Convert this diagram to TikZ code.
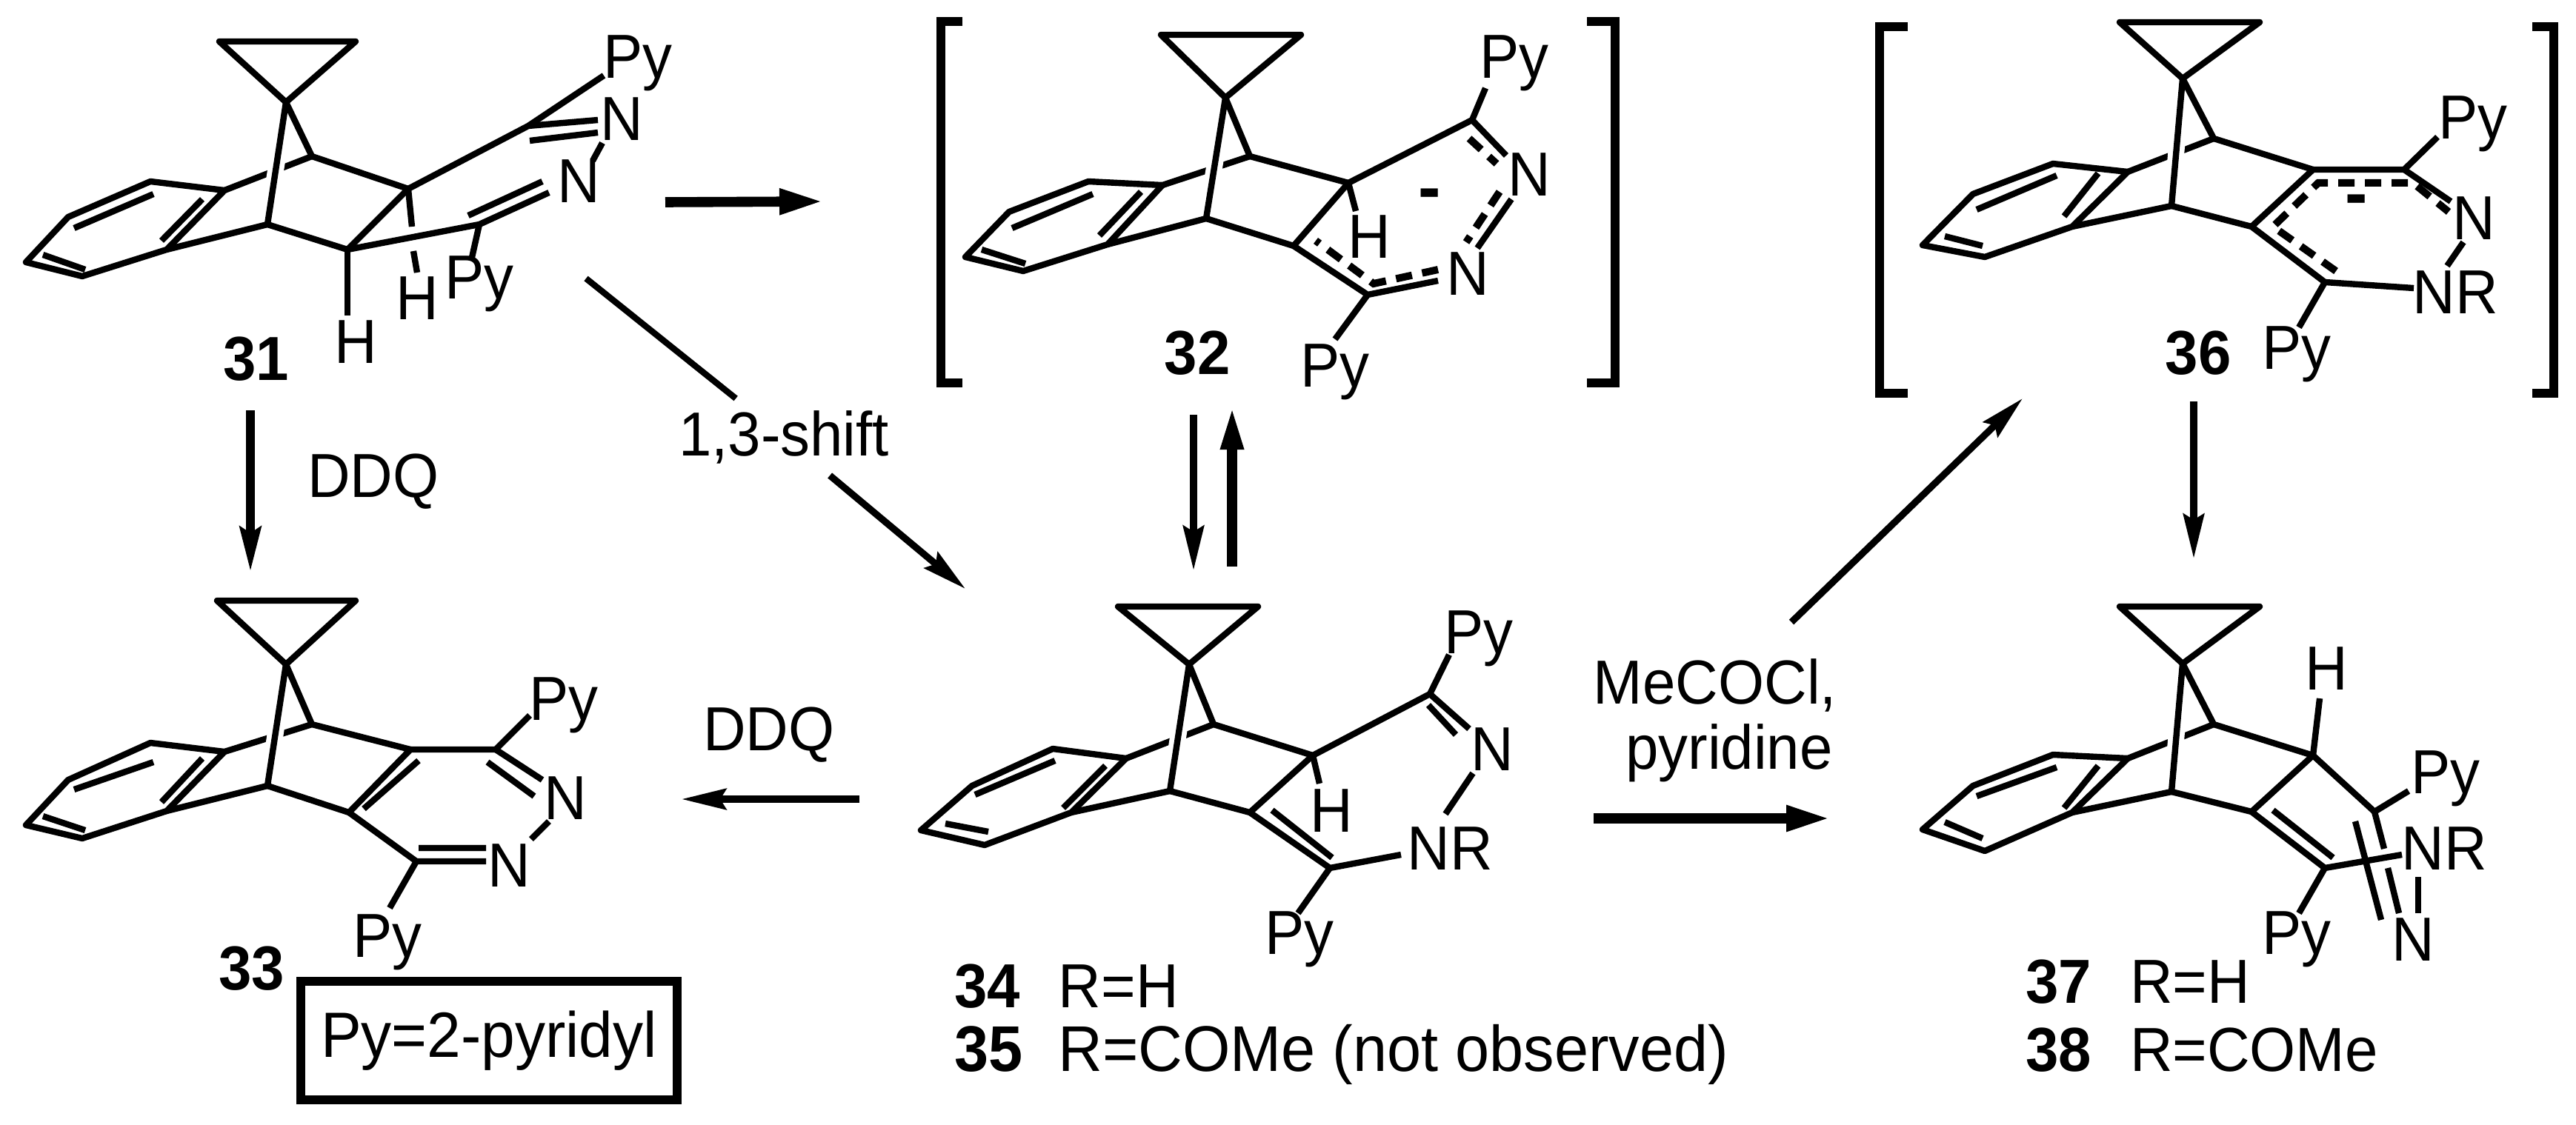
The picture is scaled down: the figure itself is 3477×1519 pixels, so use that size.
\documentclass[tikz,border=0pt]{standalone}
\usepackage{fontspec}
\setmainfont[FakeStretch=0.95]{Liberation Sans}
\usetikzlibrary{arrows.meta}

\tikzset{
  every picture/.style={line width=2.1pt},
  bond/.style={line width=2.1pt,line join=round},
  halo/.style={white,line width=5.5pt},
  resbond/.style={line width=2.5pt,dash pattern=on 5.5pt off 3.5pt},
  atomlabel/.style={font=\fontsize{21}{24}\selectfont,inner sep=0.75pt},
  numlabel/.style={font=\fontsize{21}{24}\selectfont\bfseries,inner sep=0.75pt},
  chargelabel/.style={font=\fontsize{24}{24}\selectfont\bfseries,inner sep=0.75pt},
  bracketline/.style={line width=3pt,line join=miter},
  thinarrow/.style={line width=2.3pt,-{Stealth[length=15pt,width=7pt,inset=2pt]}},
  thickarrow/.style={line width=3.4pt,-{Stealth[length=15pt,width=8pt,inset=0pt]}},
}

\begin{document}
\begin{tikzpicture}[x=0.25pt,y=0.25pt,yscale=-1,xscale=1]
\useasboundingbox (0,0) rectangle (3477,1519);

% Compound 31
\draw[bond] (421,211) -- (303,257) ;
\draw[halo] (386,138) -- (361,303) ;
\draw[bond] (296,56) -- (480,56) -- (386,138) -- cycle ;
\draw[bond] (386,138) -- (421,211) -- (551,255) -- (469,337) -- (361,303) -- (386,138) ;
\draw[bond] (303,257) -- (203,245) -- (92,293) -- (35,354) -- (111,373) -- (225,337) -- (303,257) ;
\draw[bond] (225,337) -- (361,303) ;
\draw[bond] (273,269) -- (218,325) (207,262) -- (100,308) (58,344) -- (115,364) ;
\draw[bond] (551,255) -- (713,170) -- (815,102) ;
\draw[bond] (713,170) -- (807,162) (715,190) -- (807,179) ;
\draw[bond] (813,193) -- (800,217) ;
\draw[bond] (469,337) -- (647,303) -- (741,260) (632,291) -- (732,245) ;
\draw[bond] (647,303) -- (636,352) ;
\draw[bond] (551,255) -- (556,306) (558,339) -- (563,368) ;
\draw[bond] (469,337) -- (469,426) ;
\node[atomlabel] (py31a) at (861,85) {Py};
\node[atomlabel] (n31a) at (839,161) {N};
\node[atomlabel] (n31b) at (781,245) {N};
\node[atomlabel] (py31b) at (647,383) {Py};
\node[atomlabel] (h31a) at (563,403) {H};
\node[atomlabel] (h31b) at (480,462) {H};
\node[numlabel] (num31) at (346,485) {31};

% Compound 32
\draw[bracketline] (1299,29) -- (1270,29) -- (1270,517) -- (1299,517) ;
\draw[bracketline] (2142,29) -- (2180,29) -- (2180,517) -- (2142,517) ;
\draw[bond] (1687,211) -- (1569,250) ;
\draw[halo] (1654,132) -- (1628,295) ;
\draw[bond] (1567,47) -- (1756,47) -- (1654,132) -- cycle ;
\draw[bond] (1654,132) -- (1687,211) -- (1820,247) -- (1746,332) -- (1628,295) -- (1654,132) ;
\draw[bond] (1569,250) -- (1469,245) -- (1362,286) -- (1303,347) -- (1381,366) -- (1495,330) -- (1569,250) ;
\draw[bond] (1495,330) -- (1628,295) ;
\draw[bond] (1540,259) -- (1484,318) (1475,262) -- (1366,308) (1325,337) -- (1384,356) ;
\draw[bond] (1820,247) -- (1987,162) -- (2005,119) ;
\draw[bond] (1987,162) -- (2033,210) (2040,269) -- (1994,335) ;
\draw[bond] (1941,379) -- (1846,398) -- (1746,332) (1846,398) -- (1802,458) ;
\draw[bond] (1820,247) -- (1830,285) ;
\draw[resbond] (1983,187) -- (2020,221) (2024,259) -- (1979,327) ;
\draw[resbond] (1941,364) -- (1854,383) -- (1776,325) ;
\node[atomlabel] (py32a) at (2044,85) {Py};
\node[atomlabel] (n32a) at (2064,236) {N};
\node[atomlabel] (n32b) at (1981,370) {N};
\node[atomlabel] (py32b) at (1802,502) {Py};
\node[atomlabel] (h32) at (1848,320) {H};
\node[chargelabel] (minus32) at (1930,270) {-};
\node[numlabel] (num32) at (1616,477) {32};

% Compound 36
\draw[bracketline] (2575,36) -- (2537,36) -- (2537,531) -- (2575,531) ;
\draw[bracketline] (3418,36) -- (3447,36) -- (3447,531) -- (3418,531) ;
\draw[bond] (2988,187) -- (2872,232) ;
\draw[halo] (2946,106) -- (2931,278) ;
\draw[bond] (2861,30) -- (3050,30) -- (2946,106) -- cycle ;
\draw[bond] (2946,106) -- (2988,187) -- (3122,229) -- (3039,306) -- (2931,278) -- (2946,106) ;
\draw[bond] (2872,232) -- (2771,221) -- (2663,262) -- (2595,331) -- (2679,347) -- (2797,306) -- (2872,232) ;
\draw[bond] (2797,306) -- (2931,278) ;
\draw[bond] (2832,234) -- (2786,292) (2776,237) -- (2668,283) (2625,319) -- (2676,332) ;
\draw[bond] (3122,229) -- (3245,229) -- (3290,185) ;
\draw[bond] (3245,229) -- (3308,272) ;
\draw[bond] (3325,327) -- (3303,359) ;
\draw[bond] (3258,389) -- (3138,381) -- (3039,306) ;
\draw[bond] (3138,381) -- (3103,442) ;
\draw[resbond] (3153,366) -- (3068,306) -- (3129,247) -- (3257,247) -- (3305,286) ;
\node[atomlabel] (py36a) at (3338,167) {Py};
\node[atomlabel] (n36) at (3339,295) {N};
\node[atomlabel] (nr36) at (3314,395) {NR};
\node[atomlabel] (py36b) at (3100,478) {Py};
\node[chargelabel] (minus36) at (3181,278) {-};
\node[numlabel] (num36) at (2967,477) {36};

% Compound 33
\draw[bond] (421,978) -- (303,1015) ;
\draw[halo] (386,897) -- (361,1061) ;
\draw[bond] (293,811) -- (480,811) -- (386,897) -- cycle ;
\draw[bond] (386,897) -- (421,978) -- (554,1012) -- (471,1097) -- (361,1061) -- (386,897) ;
\draw[bond] (303,1015) -- (203,1003) -- (92,1053) -- (35,1114) -- (111,1132) -- (225,1095) -- (303,1015) ;
\draw[bond] (225,1095) -- (361,1061) ;
\draw[bond] (273,1024) -- (218,1083) (207,1029) -- (100,1066) (58,1102) -- (115,1121) ;
\draw[bond] (565,1027) -- (491,1092) ;
\draw[bond] (554,1012) -- (669,1012) -- (715,966) ;
\draw[bond] (669,1012) -- (732,1053) (658,1029) -- (721,1075) ;
\draw[bond] (741,1109) -- (717,1133) ;
\draw[bond] (471,1097) -- (562,1163) -- (656,1163) (565,1145) -- (656,1145) ;
\draw[bond] (562,1163) -- (526,1226) ;
\node[atomlabel] (py33a) at (761,952) {Py};
\node[atomlabel] (n33a) at (763,1078) {N};
\node[atomlabel] (n33b) at (687,1169) {N};
\node[atomlabel] (py33b) at (523,1272) {Py};
\node[numlabel] (num33) at (340,1308) {33};
\node[atomlabel,font=\fontsize{21.6}{24}\selectfont,draw,line width=2.8pt,minimum width=127pt,minimum height=40pt] (pybox) at (660,1405) {Py=2-pyridyl};

% Compound 34
\draw[bond] (1638,978) -- (1520,1024) ;
\draw[halo] (1605,897) -- (1579,1068) ;
\draw[bond] (1509,819) -- (1698,819) -- (1605,897) -- cycle ;
\draw[bond] (1605,897) -- (1638,978) -- (1772,1020) -- (1687,1097) -- (1579,1068) -- (1605,897) ;
\draw[bond] (1520,1024) -- (1421,1011) -- (1312,1061) -- (1243,1121) -- (1329,1141) -- (1446,1097) -- (1520,1024) ;
\draw[bond] (1446,1097) -- (1579,1068) ;
\draw[bond] (1492,1034) -- (1435,1091) (1424,1027) -- (1316,1073) (1276,1112) -- (1334,1123) ;
\draw[bond] (1772,1020) -- (1930,937) -- (1956,884) ;
\draw[bond] (1930,937) -- (1983,984) (1928,952) -- (1965,992) ;
\draw[bond] (1988,1044) -- (1951,1099) ;
\draw[bond] (1891,1154) -- (1795,1172) -- (1687,1097) (1717,1094) -- (1798,1158) ;
\draw[bond] (1795,1172) -- (1752,1233) ;
\draw[bond] (1772,1020) -- (1781,1058) ;
\node[atomlabel] (py34a) at (1996,862) {Py};
\node[atomlabel] (n34) at (2014,1012) {N};
\node[atomlabel] (nr34) at (1957,1146) {NR};
\node[atomlabel] (py34b) at (1754,1268) {Py};
\node[atomlabel] (h34) at (1797,1095) {H};
\node[atomlabel,anchor=base west] (lbl34) at (1281,1360) {\textbf{34}\hspace{13pt}R=H};
\node[atomlabel,font=\fontsize{21.8}{24}\selectfont,anchor=base west] (lbl35) at (1281,1446) {\textbf{35}\hspace{12pt}R=COMe (not observed)};

% Compound 37
\draw[bond] (2988,978) -- (2872,1024) ;
\draw[halo] (2946,896) -- (2931,1069) ;
\draw[bond] (2861,819) -- (3050,819) -- (2946,896) -- cycle ;
\draw[bond] (2946,896) -- (2988,978) -- (3122,1020) -- (3039,1096) -- (2931,1069) -- (2946,896) ;
\draw[bond] (2872,1024) -- (2771,1019) -- (2663,1061) -- (2595,1120) -- (2679,1149) -- (2797,1097) -- (2872,1024) ;
\draw[bond] (2797,1097) -- (2931,1069) ;
\draw[bond] (2832,1034) -- (2786,1091) (2776,1036) -- (2668,1075) (2625,1110) -- (2676,1132) ;
\draw[bond] (3068,1094) -- (3149,1158) ;
\draw[bond] (3039,1096) -- (3138,1172) -- (3103,1233) ;
\draw[bond] (3122,1020) -- (3131,943) ;
\draw[bond] (3122,1020) -- (3205,1096) -- (3251,1068) ;
\draw[bond] (3205,1096) -- (3218,1146) (3223,1172) -- (3238,1233) (3179,1109) -- (3214,1242) ;
\draw[bond] (3138,1172) -- (3242,1154) ;
\draw[bond] (3264,1184) -- (3264,1233) ;
\node[atomlabel] (h37) at (3140,903) {H};
\node[atomlabel] (py37a) at (3301,1051) {Py};
\node[atomlabel] (nr37) at (3299,1146) {NR};
\node[atomlabel] (n37) at (3257,1269) {N};
\node[atomlabel] (py37b) at (3100,1268) {Py};
\node[atomlabel,anchor=base west] (lbl37) at (2727,1354) {\textbf{37}\hspace{13pt}R=H};
\node[atomlabel,anchor=base west] (lbl38) at (2727,1446) {\textbf{38}\hspace{13pt}R=COMe};

% Reagents
\node[atomlabel] (ddqa) at (504,650) {DDQ};
\node[atomlabel] (ddqb) at (1038,992) {DDQ};
\node[atomlabel,inner sep=3pt] (shift) at (1058,590) {1,3-shift};
\node[atomlabel] (mecocl) at (2315,925) {MeCOCl,};
\node[atomlabel] (pyr) at (2334,1017) {pyridine};

% Arrow ends
\coordinate (a31s) at (338,554);
\coordinate (a33e) at (338,772);
\coordinate (a31r) at (898,273);
\coordinate (a32l) at (1112,272);
\coordinate (s31) at (791,376);
\coordinate (s34) at (1303,795);
\coordinate (a32d) at (1611,560);
\coordinate (a34d) at (1611,770);
\coordinate (a34u) at (1663,765);
\coordinate (a32u) at (1663,547);
\coordinate (a36d) at (2961,542);
\coordinate (a37d) at (2961,754);
\coordinate (a34r) at (2418,840);
\coordinate (a36l) at (2730,538);
\coordinate (a34l) at (1160,1079);
\coordinate (a33r) at (920,1079);
\coordinate (a34b) at (2151,1105);
\coordinate (a37b) at (2471,1105);

% Arrows
\draw[thinarrow,line width=3pt] (a31s) -- (a33e) ;
\draw[thickarrow] (a31r) -- (a32l) ;
\draw[line width=2.1pt] (s31) -- (shift) ;
\draw[thinarrow] (shift) -- (s34) ;
\draw[thinarrow] (a32d) -- (a34d) ;
\draw[thickarrow,line width=3.4pt,-{Stealth[length=15pt,width=7pt,inset=0pt]}] (a34u) -- (a32u) ;
\draw[thinarrow] (a36d) -- (a37d) ;
\draw[thinarrow] (a34r) -- (a36l) ;
\draw[thinarrow] (a34l) -- (a33r) ;
\draw[thickarrow] (a34b) -- (a37b) ;

\end{tikzpicture}
\end{document}
